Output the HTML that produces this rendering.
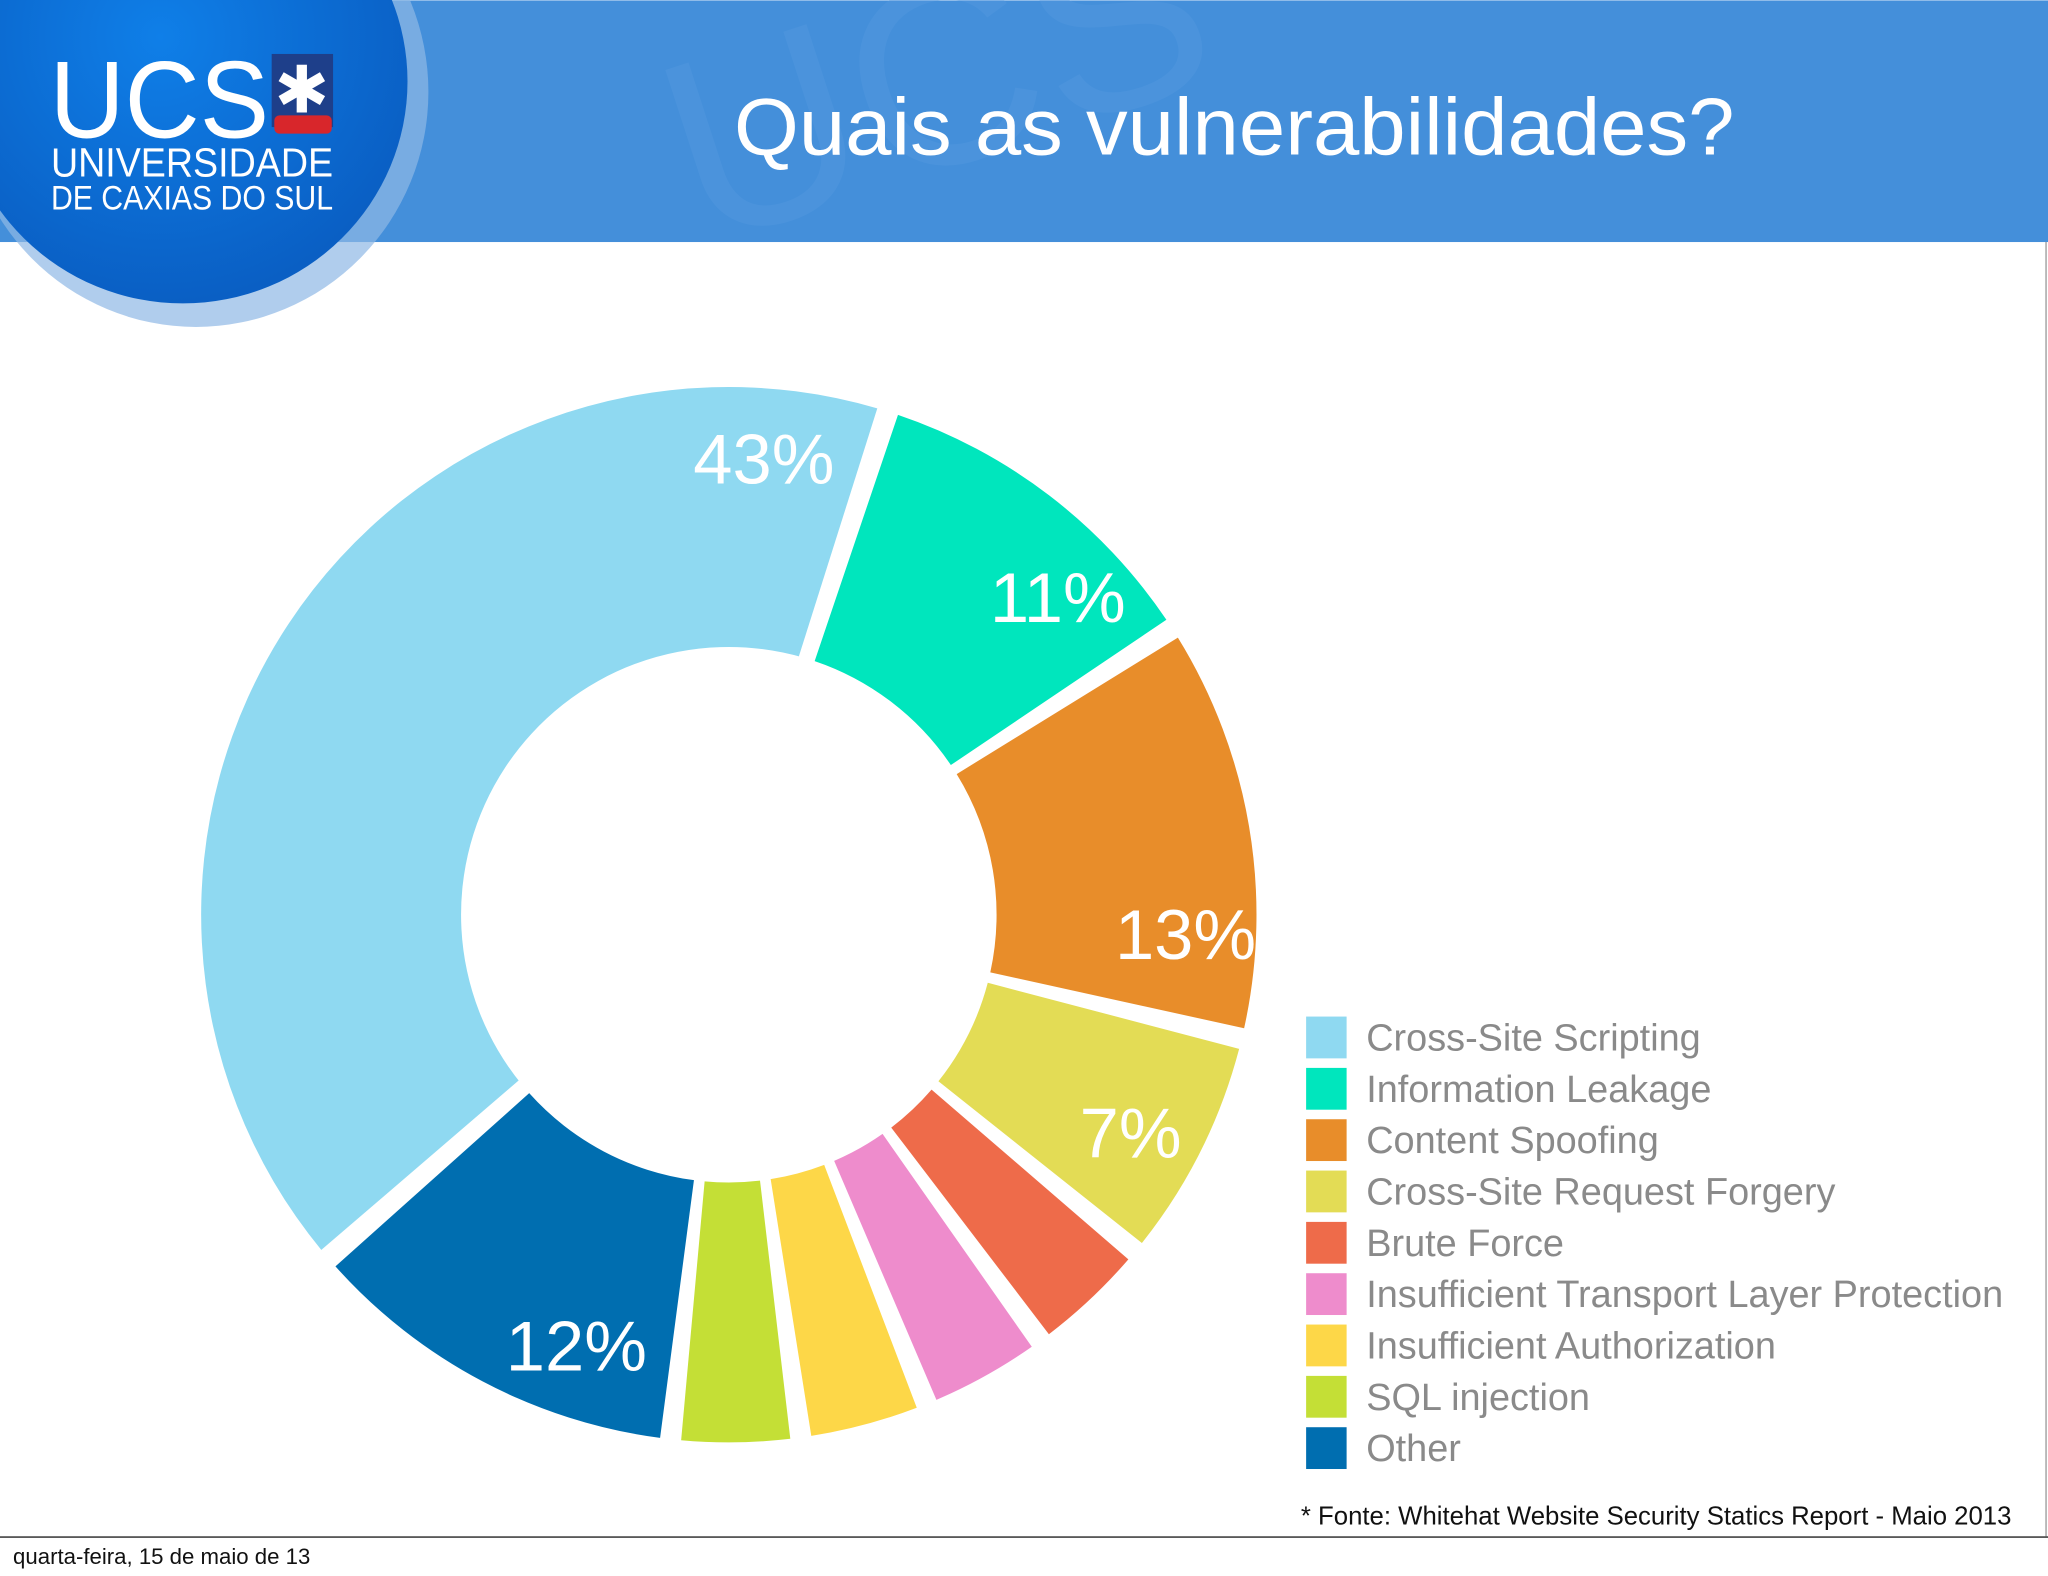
<!DOCTYPE html>
<html><head><meta charset="utf-8">
<style>
html,body{margin:0;padding:0;background:#fff;}
svg{display:block;}
text{font-family:"Liberation Sans",sans-serif;}
</style></head>
<body>
<svg id="slide" width="2048" height="1576" viewBox="0 0 1568 1206" xmlns="http://www.w3.org/2000/svg">
  <defs>
    <radialGradient id="lg" cx="0.45" cy="0.4" r="0.6">
      <stop offset="0" stop-color="#0f7fe8"/>
      <stop offset="1" stop-color="#0a5fc4"/>
    </radialGradient>
  </defs>
  <rect width="1568" height="1206" fill="#fff"/>
  <g>
    <rect x="0" y="0" width="1568" height="185" fill="#448fda"/>
    <text x="520" y="160" font-family="Liberation Serif" font-size="200" fill="#5a9de0" opacity="0.35" transform="rotate(-18 620 120)">UCS</text>
    <ellipse cx="150" cy="70" rx="178" ry="180" fill="#8fb8e6" opacity="0.7"/>
    <ellipse cx="140" cy="62" rx="172" ry="170" fill="url(#lg)"/>
  </g>
  <g>
    <text x="38" y="105" font-family="Liberation Serif" font-size="84" fill="#fff" textLength="168" lengthAdjust="spacingAndGlyphs">UCS</text>
    <rect x="208" y="41" width="47" height="56" fill="#1e3f8a"/>
    <rect x="210" y="88" width="44" height="14" rx="4" fill="#d8262b"/>
    <text x="231" y="86" font-size="50" fill="#fff" text-anchor="middle">✱</text>
    <text x="39" y="135" font-family="Liberation Serif" font-size="31" fill="#fff" textLength="216" lengthAdjust="spacingAndGlyphs">UNIVERSIDADE</text>
    <text x="39" y="160" font-family="Liberation Serif" font-size="26" fill="#fff" textLength="216" lengthAdjust="spacingAndGlyphs">DE CAXIAS DO SUL</text>
  </g>
  <text x="945" y="118" font-size="62" fill="#fff" text-anchor="middle" textLength="766" lengthAdjust="spacingAndGlyphs">Quais as vulnerabilidades?</text>

  <g id="donut"></g>
  <g id="legend"></g>

  <text x="996" y="1167" font-size="20" fill="#111" textLength="544" lengthAdjust="spacingAndGlyphs">* Fonte: Whitehat Website Security Statics Report - Maio 2013</text>
  <line x1="0" y1="1176.5" x2="1568" y2="1176.5" stroke="#222" stroke-width="1"/>
  <line x1="1566.5" y1="185" x2="1566.5" y2="1176" stroke="#999" stroke-width="1"/>
  <text x="10" y="1197" font-size="17" fill="#111">quarta-feira, 15 de maio de 13</text>
</svg>
<script>
const categories = ["Cross-Site Scripting","Information Leakage","Content Spoofing","Cross-Site Request Forgery","Brute Force","Insufficient Transport Layer Protection","Insufficient Authorization","SQL injection","Other"];
const values = [43, 11, 13, 7, 3.5, 3.5, 3.5, 3.5, 12];
const printedLabels = ["43%","11%","13%","7%","","","","","12%"];
const colors = ["#8fd9f1","#00e6bd","#e88d2a","#e3dc55","#ee6b4a","#ee8ccc","#fdd748","#c4df36","#006eb0"];

const NS = "http://www.w3.org/2000/svg";
const cx = 558, cy = 700, rOut = 404, rIn = 205, startAngle = 230.5, pad = 2.3, gapW = 17;
const total = values.reduce((a,b)=>a+b,0);
const degPer = (360 - pad*values.length) / total;
function pt(a, r){ const t = a*Math.PI/180; return [cx + r*Math.sin(t), cy - r*Math.cos(t)]; }
const donut = document.getElementById('donut');
const gaps = [];
let a = startAngle;
values.forEach((v,i)=>{
  const a0 = a, a1 = a + v*degPer;
  const large = (a1-a0) > 180 ? 1 : 0;
  const p1 = pt(a0,rOut), p2 = pt(a1,rOut), p3 = pt(a1,rIn), p4 = pt(a0,rIn);
  const path = document.createElementNS(NS,'path');
  path.setAttribute('d',`M${p1[0]},${p1[1]} A${rOut},${rOut} 0 ${large} 1 ${p2[0]},${p2[1]} L${p3[0]},${p3[1]} A${rIn},${rIn} 0 ${large} 0 ${p4[0]},${p4[1]} Z`);
  path.setAttribute('fill',colors[i]);
  
  
  donut.appendChild(path);
  gaps.push(a1 + pad/2);
  if (printedLabels[i]) {
    const la = (i === values.length-1) ? a0 + 12 : (i === 0 ? a1 - 12 : a1 - 10);
    const lp = pt(la, 350);
    const t = document.createElementNS(NS,'text');
    t.setAttribute('x', lp[0]); t.setAttribute('y', lp[1] + 19);
    t.setAttribute('text-anchor','middle');
    t.setAttribute('font-size','54');
    t.setAttribute('fill','#fff');
    t.textContent = printedLabels[i];
    
    
    donut.appendChild(t);
  }
  a = a1 + pad;
});
gaps.forEach(g=>{
  const q1 = pt(g, rIn-4), q2 = pt(g, rOut+4);
  const l = document.createElementNS(NS,'line');
  l.setAttribute('x1',q1[0]); l.setAttribute('y1',q1[1]);
  l.setAttribute('x2',q2[0]); l.setAttribute('y2',q2[1]);
  l.setAttribute('stroke','#fff'); l.setAttribute('stroke-width',gapW);
  
  
  donut.insertBefore(l, donut.querySelector('text'));
});

const legend = document.getElementById('legend');
categories.forEach((c,i)=>{
  const y = 794 + i*39.3;
  const g = document.createElementNS(NS,'g');
  
  
  const r = document.createElementNS(NS,'rect');
  r.setAttribute('x',1000); r.setAttribute('y',y-16); r.setAttribute('width',31); r.setAttribute('height',32);
  r.setAttribute('fill',colors[i]);
  
  
  const t = document.createElementNS(NS,'text');
  t.setAttribute('x',1046); t.setAttribute('y',y+10);
  t.setAttribute('font-size','29'); t.setAttribute('fill','#8a8a8a');
  t.textContent = c;
  
  
  g.appendChild(r); g.appendChild(t);
  legend.appendChild(g);
});
</script>
</body></html>
